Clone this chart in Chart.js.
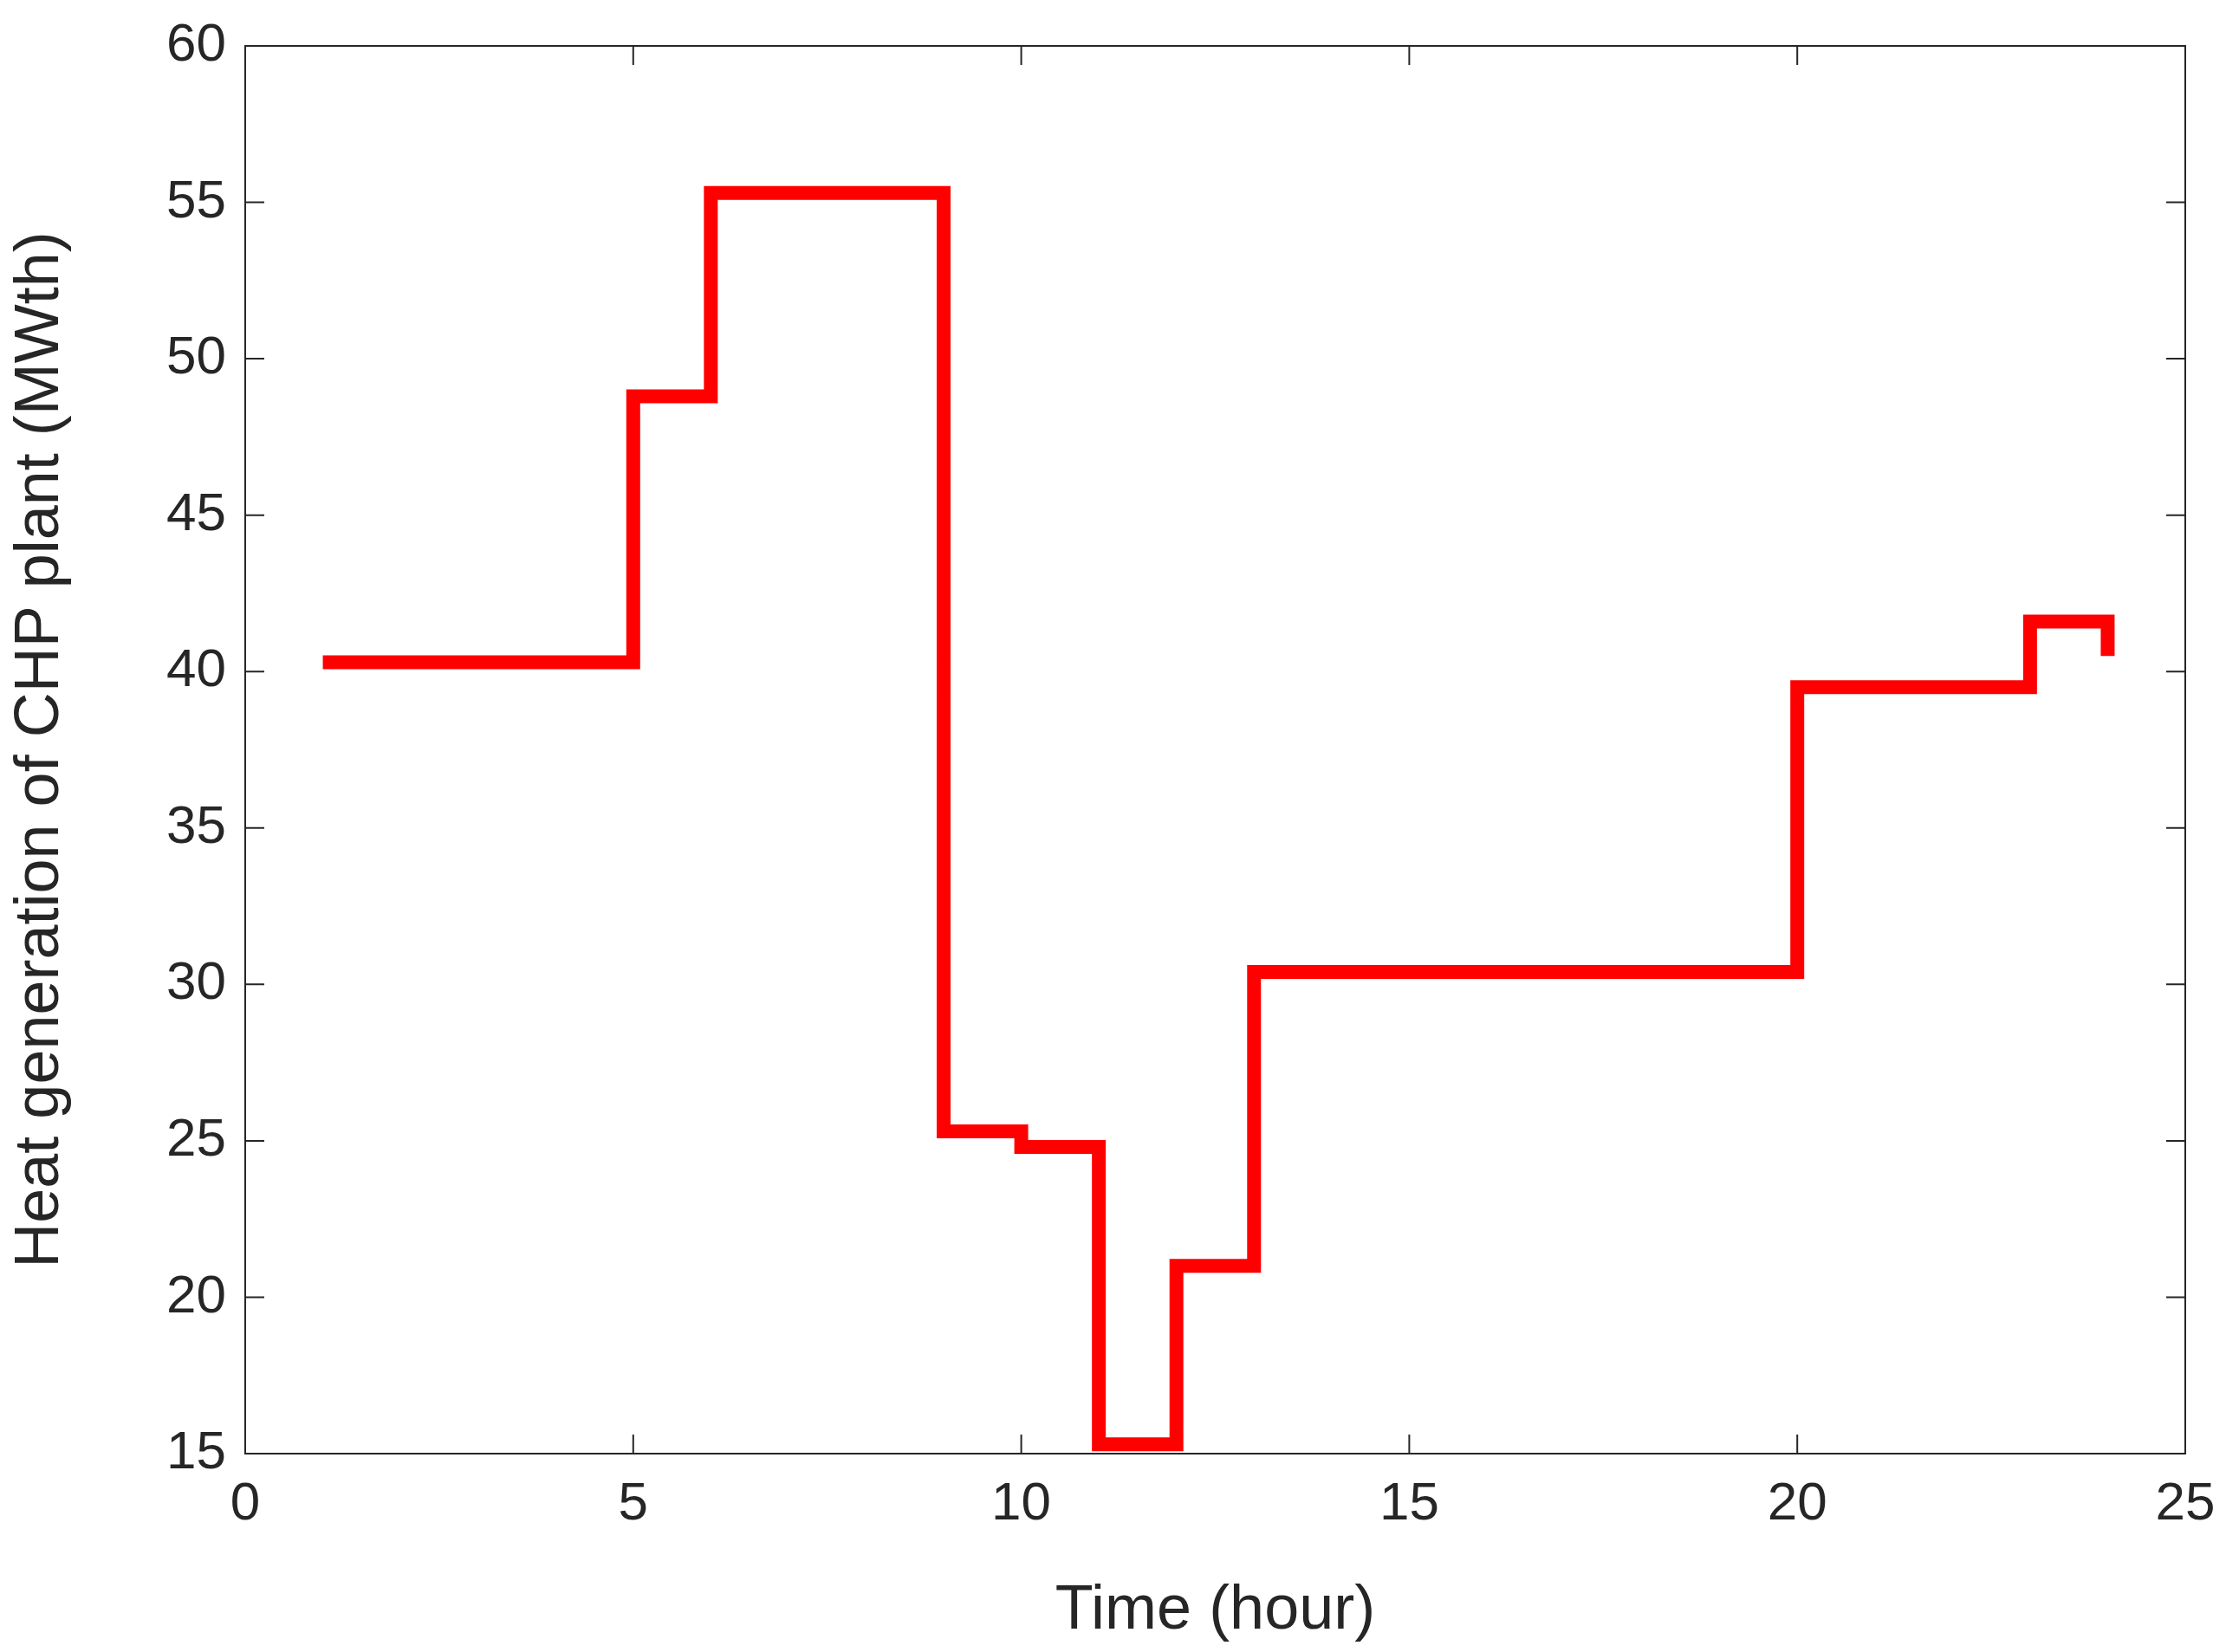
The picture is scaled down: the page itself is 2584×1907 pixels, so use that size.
<!DOCTYPE html>
<html>
<head>
<meta charset="utf-8">
<script src="https://cdn.jsdelivr.net/npm/chart.js@4"></script>
<style>
html,body{margin:0;padding:0;background:#fff;}
#wrap{width:2584px;height:1907px;}
</style>
</head>
<body>
<div id="wrap"><canvas id="c"></canvas></div>
<script>
// Datos (stairs de MATLAB)
const horas = [1,2,3,4,5,6,7,8,9,10,11,12,13,14,15,16,17,18,19,20,21,22,23,24];
const calor = [40.3,40.3,40.3,40.3,48.8,55.3,55.3,55.3,25.3,24.8,15.3,21.0,30.4,30.4,30.4,30.4,30.4,30.4,30.4,39.5,39.5,39.5,41.6,40.5];
const ticksX = [0,5,10,15,20,25];
const ticksY = [15,20,25,30,35,40,45,50,55,60];

const fuente = '"Liberation Sans", Arial, sans-serif';

// Marco y ticks hacia adentro, estilo MATLAB
const marco = {
    id: 'marco',
    afterDraw(chart) {
        const { ctx, chartArea: a, scales: { x, y } } = chart;
        ctx.save();
        ctx.strokeStyle = '#262626'; ctx.lineWidth = 2;
        ctx.strokeRect(a.left, a.top, a.right - a.left, a.bottom - a.top);
        const L = 22;
        ctx.beginPath();
        ticksX.forEach(v => {
            const px = x.getPixelForValue(v);
            ctx.moveTo(px, a.bottom); ctx.lineTo(px, a.bottom - L);
            ctx.moveTo(px, a.top); ctx.lineTo(px, a.top + L);
        });
        ticksY.forEach(v => {
            const py = y.getPixelForValue(v);
            ctx.moveTo(a.left, py); ctx.lineTo(a.left + L, py);
            ctx.moveTo(a.right, py); ctx.lineTo(a.right - L, py);
        });
        ctx.stroke();
        ctx.restore();
    }
};

new Chart(document.getElementById('c'), {
    type: 'line',
    data: {
        datasets: [{
            data: horas.map((h, i) => ({ x: h, y: calor[i] })),
            borderColor: '#ff0000', borderWidth: 16,
            stepped: true, pointRadius: 0, fill: false,
            borderCapStyle: 'butt', borderJoinStyle: 'miter'
        }]
    },
    options: {
        responsive: true, maintainAspectRatio: false, animation: false,
        layout: { padding: { top: 53, right: 62, left: 0, bottom: 0 } },
        plugins: { legend: { display: false }, tooltip: { enabled: false } },
        scales: {
            x: {
                type: 'linear', min: 0, max: 25,
                afterBuildTicks: s => { s.ticks = ticksX.map(v => ({ value: v })); },
                afterFit: s => { s.height = 229; },
                grid: { display: false }, border: { display: false },
                ticks: { color: '#262626', font: { family: fuente, size: 62 }, padding: 14, maxRotation: 0 },
                title: { display: true, text: 'Time (hour)', color: '#262626', font: { family: fuente, size: 72 }, padding: { top: 0 } }
            },
            y: {
                min: 15, max: 60,
                afterBuildTicks: s => { s.ticks = ticksY.map(v => ({ value: v })); },
                afterFit: s => { s.width = 283; },
                grid: { display: false }, border: { display: false },
                ticks: { color: '#262626', font: { family: fuente, size: 62 }, padding: 14 },
                title: { display: true, text: 'Heat generation of CHP plant (MWth)', color: '#262626', font: { family: fuente, size: 72 }, padding: { bottom: 4 } }
            }
        }
    },
    plugins: [marco]
});
</script>
</body>
</html>
